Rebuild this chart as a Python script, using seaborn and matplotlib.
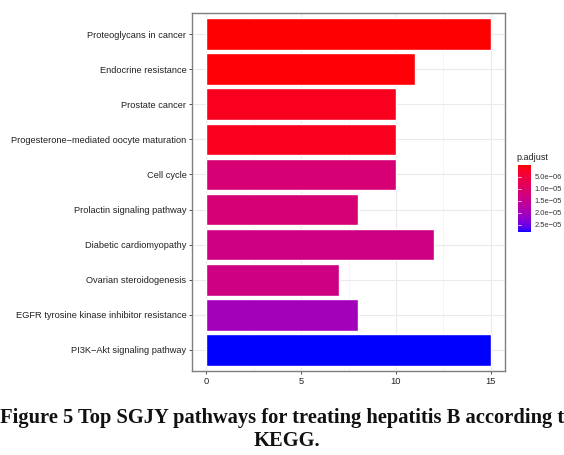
import numpy as np
import pandas as pd
import matplotlib
matplotlib.use("Agg")
import matplotlib.pyplot as plt
from matplotlib.colors import ListedColormap, Normalize
import matplotlib.cm as cm
import seaborn as sns

# KEGG enrichment results
pathways = [
    "Proteoglycans in cancer",
    "Endocrine resistance",
    "Prostate cancer",
    "Progesterone\u2212mediated oocyte maturation",
    "Cell cycle",
    "Prolactin signaling pathway",
    "Diabetic cardiomyopathy",
    "Ovarian steroidogenesis",
    "EGFR tyrosine kinase inhibitor resistance",
    "PI3K\u2212Akt signaling pathway",
]
counts = [15, 11, 10, 10, 10, 8, 12, 7, 8, 15]
p_adjust = [2.0e-7, 5.0e-7, 2.0e-6, 2.0e-6, 1.15e-5, 1.15e-5, 1.35e-5, 1.35e-5, 2.0e-5, 2.8e-5]
cbar_ticks = [5e-6, 1e-5, 1.5e-5, 2e-5, 2.5e-5]
x_ticks = [0, 5, 10, 15]

df = pd.DataFrame({"Description": pathways, "Count": counts, "p.adjust": p_adjust})


# red -> blue gradient interpolated in CIE Lab space
def srgb_to_lab(rgb):
    rgb = np.asarray(rgb, float)
    lin = np.where(rgb <= 0.04045, rgb / 12.92, ((rgb + 0.055) / 1.055) ** 2.4)
    M = np.array([[0.4124, 0.3576, 0.1805],
                  [0.2126, 0.7152, 0.0722],
                  [0.0193, 0.1192, 0.9505]])
    xyz = M @ lin / np.array([0.95047, 1.0, 1.08883])
    f = np.where(xyz > 0.008856, np.cbrt(xyz), 7.787 * xyz + 16 / 116)
    return np.array([116 * f[1] - 16, 500 * (f[0] - f[1]), 200 * (f[1] - f[2])])


def lab_to_srgb(lab):
    L, a, b = lab
    fy = (L + 16) / 116
    fx = fy + a / 500
    fz = fy - b / 200
    f = np.array([fx, fy, fz])
    xyz = np.where(f ** 3 > 0.008856, f ** 3, (f - 16 / 116) / 7.787)
    xyz = xyz * np.array([0.95047, 1.0, 1.08883])
    Minv = np.array([[3.2406, -1.5372, -0.4986],
                     [-0.9689, 1.8758, 0.0415],
                     [0.0557, -0.2040, 1.0570]])
    lin = Minv @ xyz
    rgb = np.where(lin <= 0.0031308, 12.92 * lin, 1.055 * np.clip(lin, 0, None) ** (1 / 2.4) - 0.055)
    return np.clip(rgb, 0, 1)


lab_lo = srgb_to_lab([1, 0, 0])
lab_hi = srgb_to_lab([0, 0, 1])
grad = [lab_to_srgb(lab_lo + t * (lab_hi - lab_lo)) for t in np.linspace(0, 1, 256)]
cmap = ListedColormap(grad)
norm = Normalize(vmin=min(p_adjust), vmax=max(p_adjust))
bar_colors = [cmap(norm(v)) for v in p_adjust]

sns.set_theme(style="white")
plt.rcParams["font.family"] = ["Liberation Sans", "DejaVu Sans"]

W, H = 564, 455
fig = plt.figure(figsize=(W / 100, H / 100), dpi=100)
ax = fig.add_axes([192 / W, 1 - 371 / H, (505 - 192) / W, (371 - 13) / H])

sns.barplot(data=df, x="Count", y="Description", hue="Description",
            palette=bar_colors, legend=False, width=0.9, orient="h",
            saturation=1, ax=ax, zorder=3)

ax.set_xlim(-0.75, 15.75)
ax.set_ylim(9.6, -0.6)
ax.set_xticks(x_ticks)
ax.set_xticks([2.5, 7.5, 12.5], minor=True)
ax.set_xlabel("")
ax.set_ylabel("")
ax.grid(True, which="major", color="#EBEBEB", linewidth=0.8, zorder=0)
ax.grid(True, which="minor", axis="x", color="#F2F2F2", linewidth=0.5, zorder=0)
ax.set_axisbelow(True)
ax.tick_params(axis="both", which="major", length=2.5, width=0.6, color="#333333",
               labelsize=6.7, labelcolor="#222222", pad=1.5, left=True, bottom=True)
ax.tick_params(axis="x", which="minor", length=0)
for s in ax.spines.values():
    s.set_color("#7F7F7F")
    s.set_linewidth(1.0)

# colour bar for p.adjust
cax = fig.add_axes([518 / W, 1 - 232 / H, 13 / W, (232 - 165) / H])
cb = fig.colorbar(cm.ScalarMappable(norm=norm, cmap=cmap), cax=cax, ticks=cbar_ticks)
cb.outline.set_visible(False)
cax.invert_yaxis()
cax.set_yticklabels(["5.0e\u221206", "1.0e\u221205", "1.5e\u221205", "2.0e\u221205", "2.5e\u221205"])
cax.tick_params(axis="y", length=2.5, width=0.5, color="white", direction="in",
                labelsize=5.4, labelcolor="#333333", pad=2.5)
for v in cbar_ticks:
    cax.plot([0, 0.2], [v, v], color="white", lw=0.5, transform=cax.get_yaxis_transform())
fig.text(516 / W, 1 - 157 / H, "p.adjust", fontsize=6.5, color="#222222", va="center", ha="left")

fig.text(287 / W, 1 - 418 / H,
         "Figure 5 Top SGJY pathways for treating hepatitis B according to",
         ha="center", va="center", fontsize=14.8, fontweight="bold",
         family=["Liberation Serif", "DejaVu Serif"], color="#111111")
fig.text(287 / W, 1 - 441 / H, "KEGG.", ha="center", va="center", fontsize=14.8,
         fontweight="bold", family=["Liberation Serif", "DejaVu Serif"], color="#111111")

fig.savefig("out.png", dpi=100, facecolor="white")
